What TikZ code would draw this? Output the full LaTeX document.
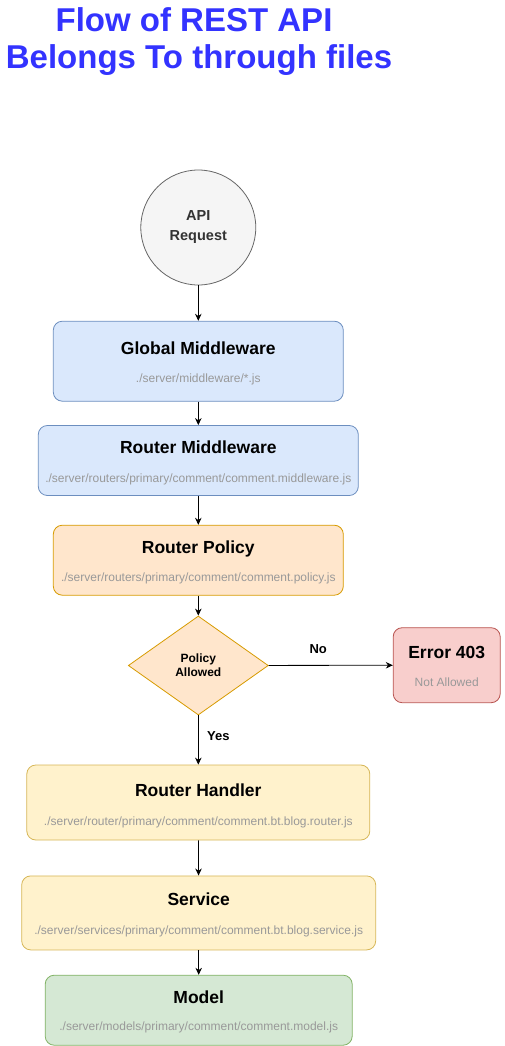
\documentclass[tikz,border=0pt]{standalone}
\usepackage{fontspec}
\setmainfont{Liberation Sans}
\usetikzlibrary{arrows.meta,shapes.geometric}

\definecolor{titleblue}{HTML}{3333FF}
\definecolor{pathgray}{HTML}{999999}
\definecolor{reqfill}{HTML}{F5F5F5}
\definecolor{reqline}{HTML}{666666}
\definecolor{reqtext}{HTML}{333333}
\definecolor{bluefill}{HTML}{DAE8FC}
\definecolor{blueline}{HTML}{6C8EBF}
\definecolor{orangefill}{HTML}{FFE6CC}
\definecolor{orangeline}{HTML}{D79B00}
\definecolor{yellowfill}{HTML}{FFF2CC}
\definecolor{yellowline}{HTML}{D6B656}
\definecolor{redfill}{HTML}{F8CECC}
\definecolor{redline}{HTML}{B85450}
\definecolor{greenfill}{HTML}{D5E8D4}
\definecolor{greenline}{HTML}{82B366}

\begin{document}
\begin{tikzpicture}[x=1pt,y=-1pt,line width=0.8pt,
    stepbox/.style={rectangle,rounded corners=9pt,draw,inner sep=0pt},
    heading/.style={anchor=base,inner sep=0pt,text=titleblue,
      font=\bfseries\fontsize{33}{40}\selectfont},
    head/.style={anchor=base,font=\bfseries\fontsize{17.5}{20}\selectfont},
    file/.style={anchor=base,text=pathgray,font=\fontsize{12}{14}\selectfont},
    answer/.style={font=\bfseries\fontsize{13}{15}\selectfont},
    flow/.style={-{Stealth[length=7pt,width=6.5pt]}}]

    \useasboundingbox (0,0) rectangle (504,1046);

    %==================== Title ====================
    \node[heading,text depth=0pt] (title1) at (194,31.7) {Flow of REST API};
    \node[heading,text height=24pt] (title2) at (199,68.3) {Belongs To through files};

    %==================== Request ====================
    \node[circle,draw=reqline,fill=reqfill,minimum size=115pt,inner sep=0pt,
      align=center,text=reqtext,font=\bfseries\fontsize{14.5}{20}\selectfont]
      (req) at (198.3,227.5) {API\\Request};

    %==================== Middleware ====================
    \node[stepbox,draw=blueline,fill=bluefill,minimum width=290pt,minimum height=80pt]
      (gm) at (198.3,361.2) {};
    \node[head] (gmT) at ([yshift=7pt]gm.center) {Global Middleware};
    \node[file] (gmS) at ([yshift=-21.5pt]gm.center) {./server/middleware/*.js};

    \node[stepbox,draw=blueline,fill=bluefill,minimum width=320pt,minimum height=70pt]
      (rm) at (198.3,460.5) {};
    \node[head] (rmT) at ([yshift=7pt]rm.center) {Router Middleware};
    \node[file] (rmS) at ([yshift=-21.5pt]rm.center) {./server/routers/primary/comment/comment.middleware.js};

    %==================== Policy ====================
    \node[stepbox,draw=orangeline,fill=orangefill,minimum width=290pt,minimum height=70pt]
      (rp) at (198.3,560.2) {};
    \node[head] (rpT) at ([yshift=7pt]rp.center) {Router Policy};
    \node[file] (rpS) at ([yshift=-21.5pt]rp.center) {./server/routers/primary/comment/comment.policy.js};

    \node[diamond,draw=orangeline,fill=orangefill,minimum width=140pt,minimum height=99pt,
      inner sep=0pt,align=center,font=\bfseries\fontsize{12}{14}\selectfont]
      (pa) at (198.3,665.5) {Policy\\Allowed};

    \node[stepbox,draw=redline,fill=redfill,minimum width=107pt,minimum height=75pt]
      (err) at (446.7,665.2) {};
    \node[head] (errT) at ([yshift=7pt]err.center) {Error 403};
    \node[file] (errS) at ([yshift=-21pt]err.center) {Not Allowed};

    %==================== Handler, service, model ====================
    \node[stepbox,draw=yellowline,fill=yellowfill,minimum width=343pt,minimum height=75pt]
      (rh) at (198.3,802.5) {};
    \node[head] (rhT) at ([yshift=6.5pt]rh.center) {Router Handler};
    \node[file] (rhS) at ([yshift=-22.5pt]rh.center) {./server/router/primary/comment/comment.bt.blog.router.js};

    \node[stepbox,draw=yellowline,fill=yellowfill,minimum width=354pt,minimum height=74pt]
      (svc) at (198.7,912.9) {};
    \node[head] (svcT) at ([yshift=7pt]svc.center) {Service};
    \node[file] (svcS) at ([yshift=-22pt]svc.center) {./server/services/primary/comment/comment.bt.blog.service.js};

    \node[stepbox,draw=greenline,fill=greenfill,minimum width=307pt,minimum height=70pt]
      (mdl) at (198.7,1010.2) {};
    \node[head] (mdlT) at ([yshift=7pt]mdl.center) {Model};
    \node[file] (mdlS) at ([yshift=-20pt]mdl.center) {./server/models/primary/comment/comment.model.js};

    % Arrows down the flow
    \draw[flow] (req) -- (gm);
    \draw[flow] (gm) -- (rm);
    \draw[flow] (rm) -- (rp);
    \draw[flow] (rp) -- (pa);
    \draw[flow] (pa) -- node[answer,pos=0.42,xshift=20pt] (yes) {Yes} (rh);
    \draw[flow] (rh) -- (svc);
    \draw[flow] (svc) -- (mdl);

    % Rejected branch
    \draw[flow] (pa) -- node[answer,pos=0.4,yshift=16.5pt] (no) {No} (err);

\end{tikzpicture}
\end{document}
